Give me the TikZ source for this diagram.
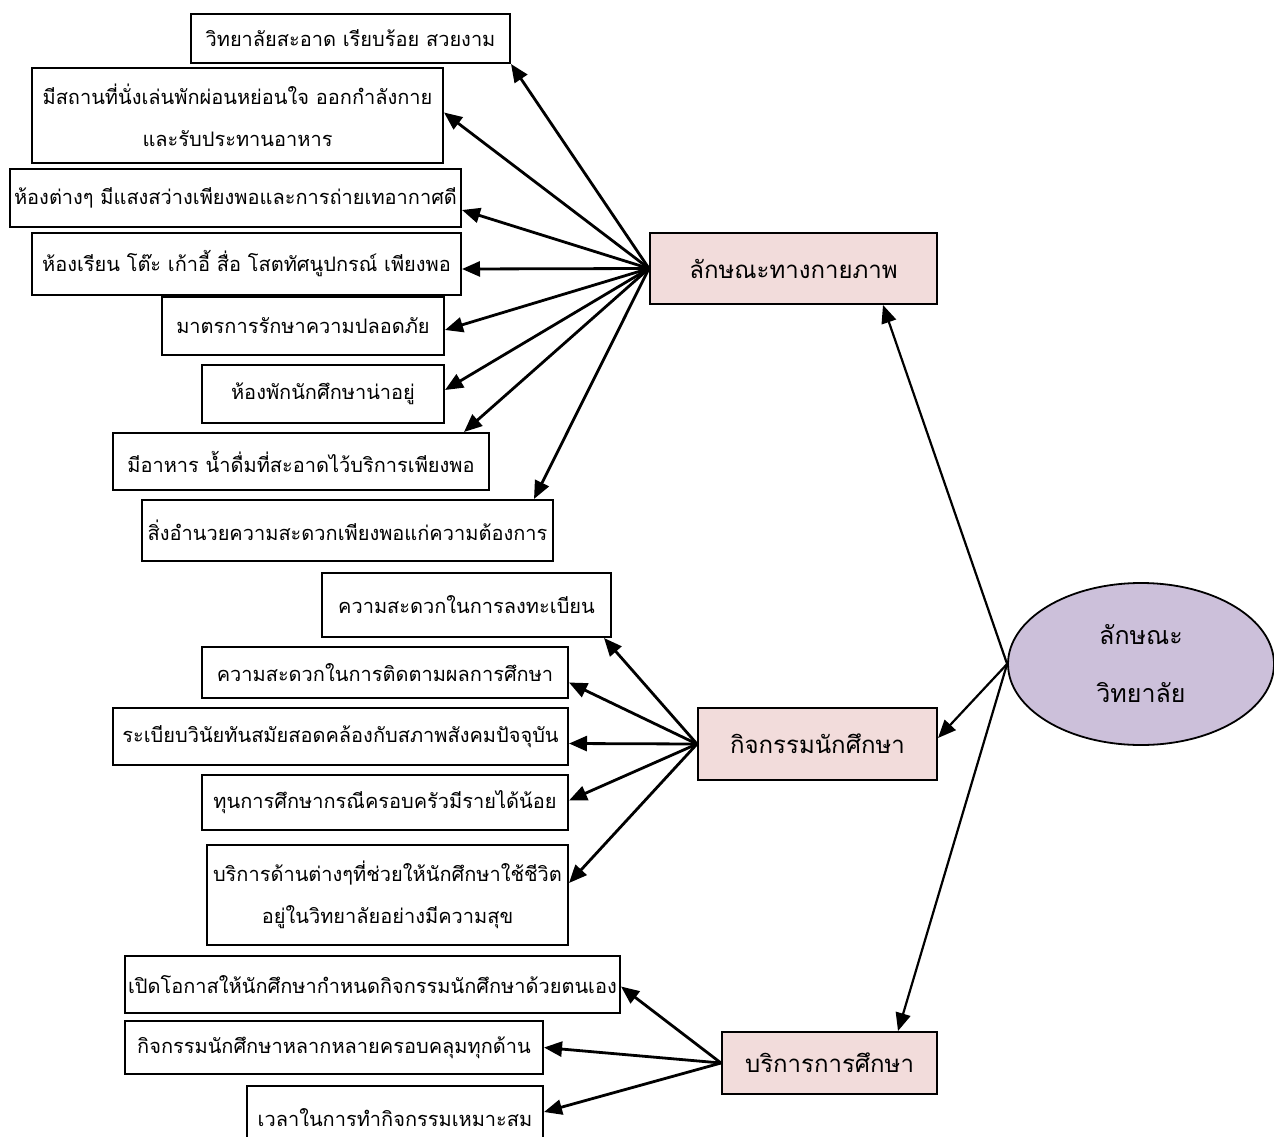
\documentclass[tikz,border=0pt]{standalone}
\usepackage{fontspec}
\newfontfamily\thaifont[Script=Thai]{Loma}
\usetikzlibrary{arrows.meta,shapes.geometric}

\definecolor{catpink}{HTML}{F2DCDB}
\definecolor{collpurple}{HTML}{CCC0DA}

\begin{document}
\begin{tikzpicture}[x=1pt,y=-1pt,
    sub/.style={draw, line width=2pt, fill=white, align=center, inner sep=2pt,
        font=\thaifont\fontsize{20}{42}\selectfont},
    cat/.style={sub, fill=catpink, font=\thaifont\fontsize{24}{42}\selectfont},
    coll/.style={ellipse, draw, line width=1.8pt, fill=collpurple, align=center,
        font=\thaifont\fontsize{25}{58}\selectfont},
    arr/.style={line width=2.8pt, -{Triangle[length=18pt,width=15pt]}}]
    \useasboundingbox (0,0) rectangle (1274,1137);
    % physical
    \node (b1) at (350.5,38.5) [sub, minimum width=319pt, minimum height=49pt] {วิทยาลัยสะอาด เรียบร้อย สวยงาม};
    \node (b2) at (237.5,115.5) [sub, minimum width=411pt, minimum height=95pt] {มีสถานที่นั่งเล่นพักผ่อนหย่อนใจ ออกกำลังกาย\\และรับประทานอาหาร};
    \node (b3) at (235.5,198) [sub, minimum width=451pt, minimum height=58pt] {ห้องต่างๆ มีแสงสว่างเพียงพอและการถ่ายเทอากาศดี};
    \node (b4) at (246.5,264) [sub, minimum width=429pt, minimum height=62pt] {ห้องเรียน โต๊ะ เก้าอี้ สื่อ โสตทัศนูปกรณ์ เพียงพอ};
    \node (b5) at (303,326) [sub, minimum width=282pt, minimum height=58pt] {มาตรการรักษาความปลอดภัย};
    \node (b6) at (323,394) [sub, minimum width=242pt, minimum height=58pt] {ห้องพักนักศึกษาน่าอยู่};
    \node (b7) at (301,461.5) [sub, minimum width=376pt, minimum height=57pt] {มีอาหาร น้ำดื่มที่สะอาดไว้บริการเพียงพอ};
    \node (b8) at (347.5,530.5) [sub, minimum width=411pt, minimum height=61pt] {สิ่งอำนวยความสะดวกเพียงพอแก่ความต้องการ};
    % student activities
    \node (b9) at (466.5,605) [sub, minimum width=289pt, minimum height=64pt] {ความสะดวกในการลงทะเบียน};
    \node (b10) at (385,672.5) [sub, minimum width=366pt, minimum height=51pt] {ความสะดวกในการติดตามผลการศึกษา};
    \node (b11) at (340.5,736.5) [sub, minimum width=455pt, minimum height=57pt] {ระเบียบวินัยทันสมัยสอดคล้องกับสภาพสังคมปัจจุบัน};
    \node (b12) at (385,802.5) [sub, minimum width=366pt, minimum height=55pt] {ทุนการศึกษากรณีครอบครัวมีรายได้น้อย};
    \node (b13) at (387.5,895) [sub, minimum width=361pt, minimum height=100pt] {บริการด้านต่างๆที่ช่วยให้นักศึกษาใช้ชีวิต\\อยู่ในวิทยาลัยอย่างมีความสุข};
    % education services
    \node (b14) at (372.5,984.5) [sub, minimum width=495pt, minimum height=57pt] {เปิดโอกาสให้นักศึกษากำหนดกิจกรรมนักศึกษาด้วยตนเอง};
    \node (b15) at (334,1047.5) [sub, minimum width=418pt, minimum height=53pt] {กิจกรรมนักศึกษาหลากหลายครอบคลุมทุกด้าน};
    \node (b16) at (395,1118) [sub, minimum width=296pt, minimum height=64pt] {เวลาในการทำกิจกรรมเหมาะสม};

    \node (phys) at (793.5,268.5) [cat, minimum width=287pt, minimum height=71pt] {ลักษณะทางกายภาพ};
    \node (act) at (817.5,744) [cat, minimum width=239pt, minimum height=72pt] {กิจกรรมนักศึกษา};
    \node (serv) at (829.5,1063) [cat, minimum width=215pt, minimum height=62pt] {บริการการศึกษา};
    \node (coll) at (1141,664) [coll, minimum width=266pt, minimum height=162pt] {ลักษณะ\\วิทยาลัย};

    \draw[arr] (phys.west) -- (b1.south east);
    \draw[arr] (phys.west) -- ([yshift=3pt]b2.east);
    \draw[arr] (phys.west) -- ([yshift=-12pt]b3.east);
    \draw[arr] (phys.west) -- ([yshift=-5pt]b4.east);
    \draw[arr] (phys.west) -- ([yshift=-4pt]b5.east);
    \draw[arr] (phys.west) -- ([yshift=4pt]b6.east);
    \draw[arr] (phys.west) -- ([xshift=-26pt]b7.north east);
    \draw[arr] (phys.west) -- ([xshift=-20pt]b8.north east);

    \draw[arr] (act.west) -- ([xshift=-8pt]b9.south east);
    \draw[arr] (act.west) -- ([yshift=-10pt]b10.east);
    \draw[arr] (act.west) -- ([yshift=-7pt]b11.east);
    \draw[arr] (act.west) -- ([yshift=2pt]b12.east);
    \draw[arr] (act.west) -- ([yshift=12pt]b13.east);

    \draw[arr] (serv.west) -- ([yshift=-2pt]b14.east);
    \draw[arr] (serv.west) -- (b15.east);
    \draw[arr] (serv.west) -- ([yshift=6pt]b16.east);

    \draw[arr, line width=2.2pt] (coll.west) -- ([xshift=-55pt]phys.south east);
    \draw[arr, line width=2.2pt] (coll.west) -- ([yshift=6pt]act.east);
    \draw[arr, line width=2.2pt] (coll.west) -- ([xshift=-40pt]serv.north east);
\end{tikzpicture}
\end{document}
